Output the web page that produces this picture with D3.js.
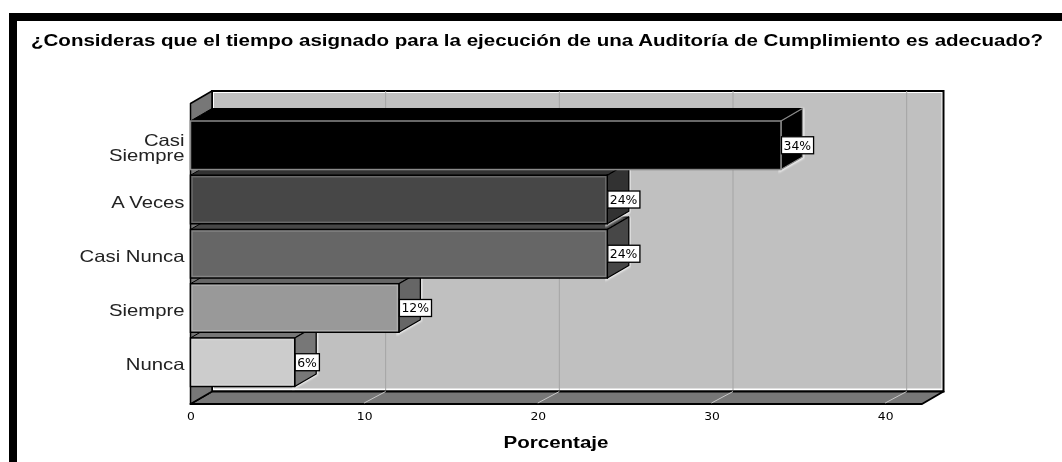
<!DOCTYPE html>
<html><head><meta charset="utf-8">
<script src="https://cdn.jsdelivr.net/npm/d3@7"></script>
<style>html,body{margin:0;padding:0;background:#fff;overflow:hidden}svg{display:block}</style>
</head><body><div id="c"></div>
<script>
const titleText = "¿Consideras que el tiempo asignado para la ejecución de una Auditoría de Cumplimiento es adecuado?";
const axisTitle = "Porcentaje";
const categories = ["Casi Siempre", "A Veces", "Casi Nunca", "Siempre", "Nunca"];
const percentages = [34, 24, 24, 12, 6];
const frontColors = ["#000000", "#474747", "#666666", "#999999", "#cccccc"];
const sideColors = ["#000000", "#333333", "#474747", "#666666", "#777777"];
const outlineColors = ["#8a8a8a", "#000000", "#000000", "#000000", "#000000"];
const xTicks = [0, 10, 20, 30, 40];

const W = 1062, H = 462;
const dx = 21.5, dy = -12.5;
const svg = d3.select("#c").append("svg").attr("width", W).attr("height", H);
const defs = svg.append("defs");
defs.append("filter").attr("id", "soft").attr("x", "-5%").attr("y", "-5%").attr("width", "110%").attr("height", "110%")
  .append("feGaussianBlur").attr("stdDeviation", 0.45);
defs.append("filter").attr("id", "glow").attr("x", "-10%").attr("y", "-10%").attr("width", "120%").attr("height", "120%")
  .append("feGaussianBlur").attr("stdDeviation", 1.2);

const x = d3.scaleLinear().domain([0, 42.12]).range([190.5, 922]);
const y = d3.scaleBand().domain(categories).range([121, 386.5]).paddingInner(0.105).paddingOuter(0);

const root = svg.append("g").attr("filter", "url(#soft)");

root.append("path").attr("d", `M9,462V13H1062V21H17V462Z`).attr("fill", "#000");

function stretch(sel, k) {
  sel.each(function () {
    const len = this.getComputedTextLength();
    d3.select(this).attr("textLength", len * k).attr("lengthAdjust", "spacingAndGlyphs");
  });
}

root.append("text").attr("x", 31).attr("y", 46)
  .attr("font-family", "Liberation Sans").attr("font-weight", "bold").attr("font-size", 16)
  .attr("fill", "#000").attr("textLength", 1012).attr("lengthAdjust", "spacingAndGlyphs").text(titleText);

const x0 = x(0), x1 = x.range()[1];
const yF = 404, yTopF = 103.5;
const poly = pts => "M" + pts.map(p => p.join(",")).join("L") + "Z";

root.append("path").attr("d", poly([[x0 + dx, yTopF + dy], [x1 + dx, yTopF + dy], [x1 + dx, yF + dy], [x0 + dx, yF + dy]]))
  .attr("fill", "#fff").attr("stroke", "#000").attr("stroke-width", 2);
root.append("rect").attr("x", x0 + dx + 2).attr("y", yTopF + dy + 2)
  .attr("width", x1 - x0 - 4).attr("height", yF - yTopF - 5).attr("fill", "#c0c0c0");

root.append("g").selectAll("line").data(xTicks.slice(1)).join("line")
  .attr("x1", d => x(d) + dx).attr("x2", d => x(d) + dx)
  .attr("y1", yTopF + dy).attr("y2", yF + dy).attr("stroke", "#a4a4a4").attr("stroke-width", 1);

root.append("path").attr("d", poly([[x0, yF], [x1, yF], [x1 + dx, yF + dy], [x0 + dx, yF + dy]]))
  .attr("fill", "#777").attr("stroke", "#000").attr("stroke-width", 2).attr("stroke-linejoin", "round");
root.append("g").selectAll("line").data(xTicks).join("line")
  .attr("x1", d => x(d)).attr("x2", d => x(d) + dx)
  .attr("y1", yF - 1).attr("y2", yF + dy).attr("stroke", "#c8c8c8").attr("stroke-width", 1);

root.append("path").attr("d", poly([[x0, yTopF], [x0 + dx, yTopF + dy], [x0 + dx, yF + dy], [x0, yF]]))
  .attr("fill", "#777").attr("stroke", "#000").attr("stroke-width", 1.5).attr("stroke-linejoin", "round");

const order = d3.range(categories.length).reverse();
const bars = root.append("g").selectAll("g").data(order).join("g");
const h = y.bandwidth();
bars.append("path").attr("filter", "url(#glow)").attr("fill", "none").attr("stroke", "#fff").attr("stroke-width", 3)
  .attr("d", i => {
    const a = x(percentages[i]), t = y(categories[i]);
    return poly([[a, t + h], [a + dx, t + h + dy], [a + dx, t + dy]]);
  });
bars.append("path").attr("stroke", "#000").attr("stroke-width", 1)
  .attr("d", i => {
    const a = x(percentages[i]), t = y(categories[i]);
    return poly([[x0, t], [x0 + dx, t + dy], [a + dx, t + dy], [a, t]]);
  }).attr("fill", i => sideColors[i]);
bars.append("path").attr("stroke", i => outlineColors[i]).attr("stroke-width", 1.3).attr("stroke-linejoin", "round")
  .attr("fill", i => sideColors[i])
  .attr("d", i => {
    const a = x(percentages[i]), t = y(categories[i]);
    return poly([[a, t], [a + dx, t + dy], [a + dx, t + h + dy], [a, t + h]]);
  });
bars.append("rect").attr("x", x0).attr("y", i => y(categories[i]))
  .attr("width", i => x(percentages[i]) - x0).attr("height", h)
  .attr("fill", i => frontColors[i]).attr("stroke", i => outlineColors[i]).attr("stroke-width", 1.5);
bars.append("rect").attr("x", x0 + 1.5).attr("y", i => y(categories[i]) + 1.5)
  .attr("width", i => x(percentages[i]) - x0 - 3).attr("height", h - 3)
  .attr("fill", "none").attr("stroke", "#fff").attr("stroke-opacity", i => i === 0 ? 0 : .2).attr("stroke-width", 1.5);

const labels = bars.append("g").attr("transform", i => `translate(${x(percentages[i])},${y(categories[i]) + h / 2})`);
labels.append("text").attr("x", 2.5).attr("y", 4.5)
  .attr("font-family", "DejaVu Sans").attr("font-size", 11.5).attr("fill", "#000")
  .text(i => percentages[i] + "%")
  .call(stretch, 1.08);
labels.insert("rect", "text").each(function () {
  const t = this.parentNode.querySelector("text");
  const w = t.getComputedTextLength();
  d3.select(this).attr("x", 0.5).attr("y", -8.5).attr("width", w + 4.5).attr("height", 17)
    .attr("fill", "#fff").attr("stroke", "#000").attr("stroke-width", 1.3);
});

const xAxis = root.append("g").attr("transform", `translate(0,${yF})`)
  .call(d3.axisBottom(x).tickValues(xTicks).tickSize(0).tickPadding(8));
xAxis.select(".domain").remove();
xAxis.selectAll("text").attr("font-family", "DejaVu Sans").attr("font-size", 11).attr("fill", "#000")
  .call(stretch, 1.12);

root.append("text").attr("x", 556).attr("y", 448).attr("text-anchor", "middle")
  .attr("font-family", "Liberation Sans").attr("font-weight", "bold").attr("font-size", 16)
  .attr("textLength", 105).attr("lengthAdjust", "spacingAndGlyphs").text(axisTitle);

const yAxis = root.append("g").attr("transform", `translate(${x0},0)`)
  .call(d3.axisLeft(y).tickSize(0).tickPadding(6));
yAxis.select(".domain").remove();
yAxis.selectAll("text").attr("font-family", "Liberation Sans").attr("font-size", 16.5).attr("fill", "#222")
  .each(function (d) {
    const t = d3.select(this), words = d === "Casi Siempre" ? d.split(" ") : [d];
    t.text(null).attr("dy", null);
    words.forEach((w, i) => {
      t.append("tspan").attr("x", -6).attr("y", 8 + (i - (words.length - 1) / 2) * 15).text(w);
    });
    t.selectAll("tspan").call(stretch, 1.23);
  });
</script></body></html>
